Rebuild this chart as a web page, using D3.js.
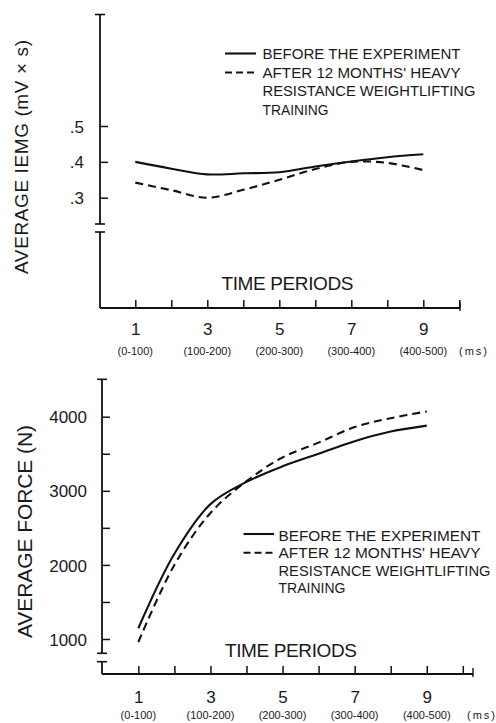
<!DOCTYPE html>
<html>
<head>
<meta charset="utf-8">
<script src="https://cdn.jsdelivr.net/npm/d3@7"></script>
<style>
  html, body { margin: 0; padding: 0; background: #fff; }
  svg { display: block; }
  text { font-family: "Liberation Sans", "DejaVu Sans", sans-serif; fill: #1a1a1a; }
</style>
</head>
<body>
<svg id="chart" width="496" height="723"></svg>
<script>
// ---------- DATA ----------
const periods = [1, 2, 3, 4, 5, 6, 7, 8, 9];
const xTickValues = [1, 2, 3, 4, 5, 6, 7, 8, 9, 10];
const xTickLabels = ["1", "", "3", "", "5", "", "7", "", "9", ""];
const periodRanges = ["(0-100)", "(100-200)", "(200-300)", "(300-400)", "(400-500)"];
const periodRangeAt = [1, 3, 5, 7, 9];
const unitLabel = "(ms)";

const iemgBefore = [0.400, 0.381, 0.365, 0.368, 0.371, 0.387, 0.401, 0.413, 0.421];
const iemgAfter  = [0.342, 0.321, 0.300, 0.322, 0.350, 0.380, 0.400, 0.397, 0.377];
const iemgTicks = [0.3, 0.4, 0.5];

const forceBefore = [1145, 2150, 2820, 3120, 3330, 3500, 3670, 3800, 3880];
const forceAfter  = [960, 2000, 2700, 3130, 3450, 3650, 3860, 3980, 4070];
const forceTicks = [1000, 1500, 2000, 2500, 3000, 3500, 4000];
const forceTickLabels = ["1000", "", "2000", "", "3000", "", "4000"];

const legendLines = ["BEFORE THE EXPERIMENT", "AFTER 12 MONTHS' HEAVY", "RESISTANCE WEIGHTLIFTING", "TRAINING"];
const xTitle = "TIME PERIODS";
const iemgTitle = "AVERAGE IEMG (mV × s)";
const forceTitle = "AVERAGE FORCE (N)";

// ---------- DRAW ----------
const svg = d3.select("#chart");
const INK = "#111";

function panel(cfg) {
  const g = svg.append("g");
  const x = d3.scaleLinear().domain([0, 10]).range(cfg.xRange);
  const y = d3.scaleLinear().domain(cfg.yDomain).range(cfg.yRange);
  const ax = cfg.axisX, ay = cfg.axisY;

  // y axis line segments (broken)
  g.append("line").attr("x1", ax).attr("x2", ax).attr("y1", cfg.yTop).attr("y2", cfg.breakTop)
    .attr("stroke", INK).attr("stroke-width", 1.8);
  g.append("line").attr("x1", ax).attr("x2", ax).attr("y1", cfg.breakBottom).attr("y2", ay)
    .attr("stroke", INK).attr("stroke-width", 1.8);
  [cfg.yTop, cfg.breakTop, cfg.breakBottom].forEach(yy => {
    g.append("line").attr("x1", ax - 5).attr("x2", ax + 5).attr("y1", yy).attr("y2", yy)
      .attr("stroke", INK).attr("stroke-width", 1.6);
  });
  // x axis line
  g.append("line").attr("x1", ax).attr("x2", cfg.xEnd).attr("y1", ay).attr("y2", ay)
    .attr("stroke", INK).attr("stroke-width", 1.8);
  g.append("line").attr("x1", cfg.xEnd).attr("x2", cfg.xEnd).attr("y1", ay - 6).attr("y2", ay + 3)
    .attr("stroke", INK).attr("stroke-width", 1.4);

  // y axis ticks & labels
  const yAxis = d3.axisLeft(y).tickValues(cfg.yTicks).tickSize(-8).tickPadding(cfg.yPad)
    .tickFormat((d, i) => cfg.yLabels[i]);
  const gy = g.append("g").attr("transform", `translate(${ax},0)`).call(yAxis);
  gy.select(".domain").remove();
  gy.selectAll(".tick line").attr("stroke", INK).attr("stroke-width", 1.5);
  gy.selectAll(".tick text").attr("font-size", 17).attr("font-family", "Liberation Sans, DejaVu Sans, sans-serif")
    .attr("fill", "#1a1a1a").attr("dy", "0.36em");

  // x axis ticks & labels
  const xAxis = d3.axisBottom(x).tickValues(xTickValues).tickSize(-8).tickPadding(cfg.xPad)
    .tickFormat((d, i) => xTickLabels[i]);
  const gx = g.append("g").attr("transform", `translate(0,${ay})`).call(xAxis);
  gx.select(".domain").remove();
  gx.selectAll(".tick line").attr("stroke", INK).attr("stroke-width", 1.5);
  gx.selectAll(".tick text").attr("font-size", 17).attr("font-family", "Liberation Sans, DejaVu Sans, sans-serif")
    .attr("fill", "#1a1a1a").attr("dy", "0em").attr("y", cfg.numBase - ay);

  // period range labels
  g.selectAll(".rng").data(periodRanges).enter().append("text")
    .attr("x", (d, i) => x(periodRangeAt[i])).attr("y", cfg.rngBase)
    .attr("text-anchor", "middle").attr("font-size", 11).text(d => d);
  g.append("text").attr("x", cfg.msX).attr("y", cfg.rngBase).attr("font-size", 11)
    .attr("textLength", 28).text(unitLabel);

  // x title
  g.append("text").attr("x", cfg.xTitleX).attr("y", cfg.xTitleY).attr("font-size", 19)
    .attr("textLength", 132).text(xTitle);

  // y title
  g.append("text").attr("transform", `translate(${cfg.yTitleX},${cfg.yTitleY}) rotate(-90)`)
    .attr("text-anchor", "middle").attr("font-size", cfg.yTitleSize)
    .attr("textLength", cfg.yTitleLen).text(cfg.yTitle);

  // lines
  const line = d3.line().x((d, i) => x(periods[i])).y(d => y(d)).curve(d3.curveCatmullRom.alpha(0.5));
  g.append("path").datum(cfg.before).attr("d", line).attr("fill", "none")
    .attr("stroke", INK).attr("stroke-width", 2.1);
  g.append("path").datum(cfg.after).attr("d", line).attr("fill", "none")
    .attr("stroke", INK).attr("stroke-width", 2.1).attr("stroke-dasharray", "8,5");

  // legend
  const L = cfg.legend;
  g.append("line").attr("x1", L.x0).attr("x2", L.x1).attr("y1", L.ySolid).attr("y2", L.ySolid)
    .attr("stroke", INK).attr("stroke-width", 2.1);
  g.append("line").attr("x1", L.x0).attr("x2", L.x1).attr("y1", L.yDash).attr("y2", L.yDash)
    .attr("stroke", INK).attr("stroke-width", 2.1).attr("stroke-dasharray", "7,4");
  g.selectAll(".leg").data(legendLines).enter().append("text")
    .attr("x", L.tx).attr("y", (d, i) => L.base[i]).attr("font-size", 15)
    .attr("textLength", (d, i) => L.widths[i]).attr("lengthAdjust", "spacingAndGlyphs")
    .text(d => d);
}

panel({
  xRange: [99.3, 459.3], yDomain: [0.3, 0.5], yRange: [197.7, 126],
  axisX: 100, axisY: 308, yTop: 14.5, breakTop: 224, breakBottom: 232, xEnd: 460,
  yTicks: iemgTicks, yLabels: iemgTicks.map(d => d3.format(".1f")(d).replace(/^0/, "")), yPad: 16,
  xPad: 10, numBase: 335, rngBase: 355, msX: 459,
  xTitleX: 221.5, xTitleY: 290,
  yTitle: iemgTitle, yTitleX: 28, yTitleY: 157, yTitleSize: 19, yTitleLen: 234,
  before: iemgBefore, after: iemgAfter,
  legend: { x0: 225, x1: 256, ySolid: 53.5, yDash: 72.5, tx: 262.5,
            base: [59, 77.5, 96, 114.5], widths: [198, 198, 213, 66] }
});

panel({
  xRange: [102.3, 462.8], yDomain: [1000, 4000], yRange: [639, 416.7],
  axisX: 102, axisY: 674, yTop: 379.3, breakTop: 653.3, breakBottom: 661.7, xEnd: 473,
  yTicks: forceTicks, yLabels: forceTickLabels, yPad: 15,
  xPad: 10, numBase: 703, rngBase: 719, msX: 467,
  xTitleX: 225, xTitleY: 657,
  yTitle: forceTitle, yTitleX: 32, yTitleY: 531.5, yTitleSize: 21, yTitleLen: 213,
  before: forceBefore, after: forceAfter,
  legend: { x0: 243.5, x1: 274, ySolid: 534, yDash: 552.7, tx: 278.5,
            base: [540.7, 558.3, 575.8, 593.3], widths: [202, 202, 212, 67] }
});
</script>
</body>
</html>
